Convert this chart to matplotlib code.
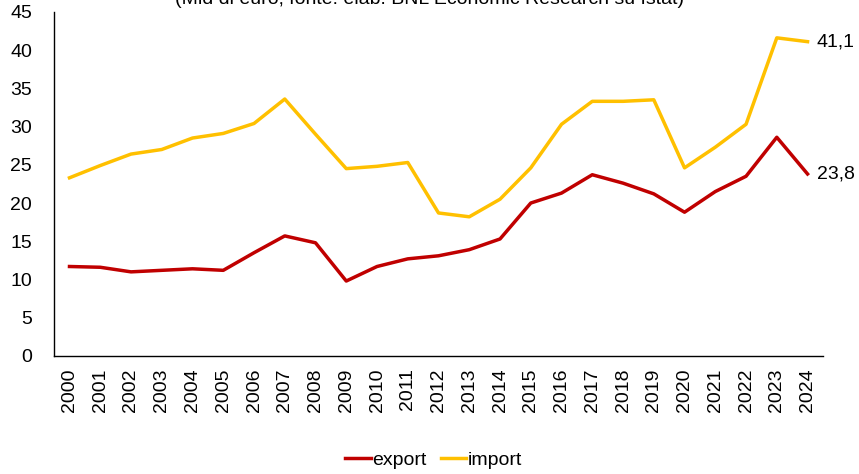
import matplotlib.pyplot as plt

plt.rcParams['font.family'] = ['Liberation Sans', 'DejaVu Sans']

years = list(range(2000, 2025))
export = [11.7, 11.6, 11.0, 11.2, 11.4, 11.2, 13.5, 15.7, 14.8, 9.8, 11.7, 12.7, 13.1,
          13.9, 15.3, 20.0, 21.3, 23.7, 22.6, 21.2, 18.8, 21.5, 23.5, 28.6, 23.8]
imports = [23.3, 24.9, 26.4, 27.0, 28.5, 29.1, 30.4, 33.6, 29.0, 24.5, 24.8, 25.3, 18.7,
           18.2, 20.5, 24.6, 30.3, 33.3, 33.3, 33.5, 24.6, 27.3, 30.3, 41.6, 41.1]
title = "(Mld di euro; fonte: elab. BNL Economic Research su Istat)"

fig = plt.figure(figsize=(8.59, 4.74), dpi=100)
ax = fig.add_axes([0.063, 0.249, 0.895, 0.726])

x = list(range(len(years)))
ax.plot(x, export, color='#C00000', lw=2.5, label='export')
ax.plot(x, imports, color='#FFC000', lw=2.5, label='import')

# end labels
ax.text(x[-1] + 0.3, imports[-1], f"{imports[-1]:.1f}".replace('.', ','),
        va='center', ha='left', fontsize=14)
ax.text(x[-1] + 0.3, export[-1], f"{export[-1]:.1f}".replace('.', ','),
        va='center', ha='left', fontsize=14)

ax.set_xlim(-0.5, len(years) - 0.5)
ax.set_ylim(0, 45)
ax.set_yticks(range(0, 46, 5))
ax.set_xticks(x)
ax.set_xticklabels([str(y) for y in years], rotation=90)
ax.tick_params(axis='both', length=0, labelsize=14)
ax.tick_params(axis='y', pad=16)
ax.tick_params(axis='x', pad=9)
for s in ['top', 'right']:
    ax.spines[s].set_visible(False)
for s in ['left', 'bottom']:
    ax.spines[s].set_linewidth(1.0)

fig.text(0.5, 1 - 4 / 474, title, ha='center', va='baseline', fontsize=14)

fig.legend(loc='center', bbox_to_anchor=(0.505, 1 - 460 / 474), ncol=2, frameon=False,
           fontsize=14, handlelength=1.3, handletextpad=0.1, columnspacing=0.7)

fig.savefig('out.png', dpi=100)
